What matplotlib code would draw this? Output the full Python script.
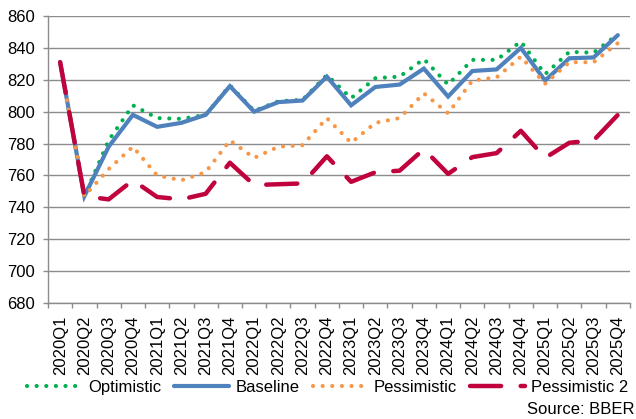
import matplotlib.pyplot as plt
import numpy as np

plt.rcParams['font.family'] = ['Liberation Sans', 'DejaVu Sans']

quarters = [f"{y}Q{q}" for y in range(2020, 2026) for q in range(1, 5)]

optimistic = [831, 747, 782, 804, 796, 795.5, 798, 816.5, 800.5, 806.5, 807.5, 823,
              808.5, 821, 822, 833, 817, 832.5, 832.5, 844, 823.5, 837.5, 837, 848.5]
baseline = [831, 747, 778, 798, 790.5, 793, 798, 816, 800, 806, 807, 822,
            804, 815.5, 817, 827, 809.5, 825.5, 826.5, 840, 819.5, 833.5, 834, 848]
pessimistic = [831, 747, 764, 778, 760, 757, 762, 782, 771, 778, 779, 796,
               780.5, 793, 796, 811.5, 799, 819.5, 821.5, 834.5, 817.5, 831, 831, 843]
pessimistic2 = [831, 747, 745, 757, 746.5, 745, 748.5, 768, 754, 754.5, 755, 772,
                756, 762, 763, 776.5, 761, 771.5, 774, 788, 771, 780.5, 782, 798]

green = '#00B050'
blue = '#4F81BD'
orange = '#F79646'
crimson = '#C0033D'
grid = '#8C8C8C'

fig = plt.figure(figsize=(6.36, 4.19), dpi=100)
ax = fig.add_axes([0.0755, 0.2768, 0.915, 0.685])

x = np.arange(len(quarters))

l1, = ax.plot(x, optimistic, color=green, lw=3, dashes=(0.01, 2.3),
              dash_capstyle='round', label='Optimistic', zorder=3)
l2, = ax.plot(x, baseline, color=blue, lw=3, solid_capstyle='round',
              solid_joinstyle='miter', label='Baseline', zorder=4)
l3, = ax.plot(x, pessimistic, color=orange, lw=3, dashes=(0.01, 2.3),
              dash_capstyle='round', label='Pessimistic', zorder=5)
l4, = ax.plot(x, pessimistic2, color=crimson, lw=3.2, dashes=(7.0, 4.4),
              dash_capstyle='round', label='Pessimistic 2', zorder=6)

ax.set_xlim(-0.5, len(quarters) - 0.5)
ax.set_ylim(680, 860)
ax.set_yticks(np.arange(680, 861, 20))
ax.yaxis.grid(True, color=grid, lw=1.0)
ax.set_axisbelow(True)

ax.set_xticks(x)
ax.set_xticklabels(quarters, rotation=90)
ax.set_xticks(np.arange(-0.5, len(quarters), 1), minor=True)
ax.tick_params(axis='x', which='major', length=0, pad=9, labelsize=12)
ax.tick_params(axis='x', which='minor', length=3.6, width=1.0, color=grid)
ax.tick_params(axis='y', length=3.6, width=1.0, color=grid, pad=6, labelsize=12)

for side in ['top', 'right']:
    ax.spines[side].set_visible(False)
for side in ['left', 'bottom']:
    ax.spines[side].set_color(grid)
    ax.spines[side].set_linewidth(1.0)

fig.legend(handles=[l1, l2, l3, l4], loc='center', bbox_to_anchor=(0.515, 1 - 387 / 419),
           ncol=4, frameon=False, fontsize=12, handlelength=3.3, handletextpad=0.35,
           columnspacing=0.8, borderpad=0, borderaxespad=0)

fig.text(0.997, 0.005, 'Source: BBER', ha='right', va='bottom', fontsize=12)

fig.savefig('out.png', dpi=100)
